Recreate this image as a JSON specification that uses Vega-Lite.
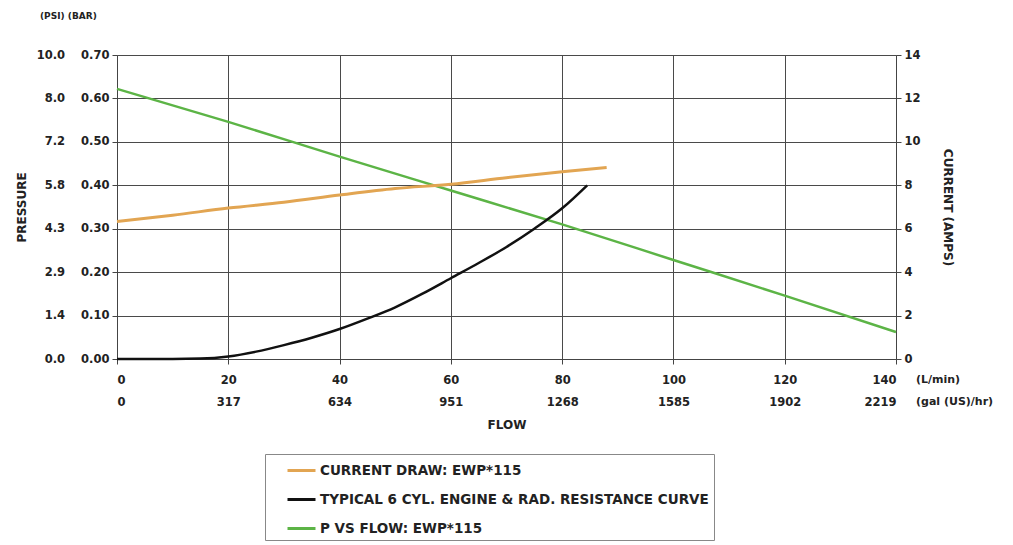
{
  "$schema": "https://vega.github.io/schema/vega-lite/v6.json",
  "width": 779,
  "height": 304,
  "autosize": "none",
  "padding": {"left": 117, "top": 55, "right": 117, "bottom": 186},
  "background": "white",
  "title": {
    "text": "(PSI)\u00a0(BAR)",
    "anchor": "start",
    "frame": "group",
    "dx": -77,
    "offset": 28,
    "font": "DejaVu Sans",
    "fontSize": 9,
    "fontWeight": "bold",
    "color": "#222"
  },
  "datasets": {
    "pressure": [
      {"series": "P VS FLOW: EWP*115", "flow": 0, "bar": 0.622},
      {"series": "P VS FLOW: EWP*115", "flow": 20, "bar": 0.546},
      {"series": "P VS FLOW: EWP*115", "flow": 40, "bar": 0.466},
      {"series": "P VS FLOW: EWP*115", "flow": 60, "bar": 0.388},
      {"series": "P VS FLOW: EWP*115", "flow": 80, "bar": 0.31},
      {"series": "P VS FLOW: EWP*115", "flow": 100, "bar": 0.228},
      {"series": "P VS FLOW: EWP*115", "flow": 120, "bar": 0.146},
      {"series": "P VS FLOW: EWP*115", "flow": 140, "bar": 0.062},
      {"series": "TYPICAL 6 CYL. ENGINE & RAD. RESISTANCE CURVE", "flow": 0, "bar": 0},
      {"series": "TYPICAL 6 CYL. ENGINE & RAD. RESISTANCE CURVE", "flow": 10, "bar": 0},
      {"series": "TYPICAL 6 CYL. ENGINE & RAD. RESISTANCE CURVE", "flow": 15, "bar": 0.001},
      {"series": "TYPICAL 6 CYL. ENGINE & RAD. RESISTANCE CURVE", "flow": 20, "bar": 0.006},
      {"series": "TYPICAL 6 CYL. ENGINE & RAD. RESISTANCE CURVE", "flow": 25, "bar": 0.017},
      {"series": "TYPICAL 6 CYL. ENGINE & RAD. RESISTANCE CURVE", "flow": 30, "bar": 0.032},
      {"series": "TYPICAL 6 CYL. ENGINE & RAD. RESISTANCE CURVE", "flow": 35, "bar": 0.049},
      {"series": "TYPICAL 6 CYL. ENGINE & RAD. RESISTANCE CURVE", "flow": 40, "bar": 0.069},
      {"series": "TYPICAL 6 CYL. ENGINE & RAD. RESISTANCE CURVE", "flow": 45, "bar": 0.093},
      {"series": "TYPICAL 6 CYL. ENGINE & RAD. RESISTANCE CURVE", "flow": 50, "bar": 0.119},
      {"series": "TYPICAL 6 CYL. ENGINE & RAD. RESISTANCE CURVE", "flow": 55, "bar": 0.151},
      {"series": "TYPICAL 6 CYL. ENGINE & RAD. RESISTANCE CURVE", "flow": 60, "bar": 0.186},
      {"series": "TYPICAL 6 CYL. ENGINE & RAD. RESISTANCE CURVE", "flow": 65, "bar": 0.221},
      {"series": "TYPICAL 6 CYL. ENGINE & RAD. RESISTANCE CURVE", "flow": 70, "bar": 0.258},
      {"series": "TYPICAL 6 CYL. ENGINE & RAD. RESISTANCE CURVE", "flow": 75, "bar": 0.3},
      {"series": "TYPICAL 6 CYL. ENGINE & RAD. RESISTANCE CURVE", "flow": 80, "bar": 0.347},
      {"series": "TYPICAL 6 CYL. ENGINE & RAD. RESISTANCE CURVE", "flow": 84.5, "bar": 0.4}
    ],
    "current": [
      {"series": "CURRENT DRAW: EWP*115", "flow": 0, "amps": 6.33},
      {"series": "CURRENT DRAW: EWP*115", "flow": 10, "amps": 6.62},
      {"series": "CURRENT DRAW: EWP*115", "flow": 20, "amps": 6.95},
      {"series": "CURRENT DRAW: EWP*115", "flow": 30, "amps": 7.22},
      {"series": "CURRENT DRAW: EWP*115", "flow": 40, "amps": 7.55},
      {"series": "CURRENT DRAW: EWP*115", "flow": 50, "amps": 7.85},
      {"series": "CURRENT DRAW: EWP*115", "flow": 60, "amps": 8.05},
      {"series": "CURRENT DRAW: EWP*115", "flow": 70, "amps": 8.35},
      {"series": "CURRENT DRAW: EWP*115", "flow": 80, "amps": 8.62},
      {"series": "CURRENT DRAW: EWP*115", "flow": 88, "amps": 8.82}
    ],
    "units": [
      {"flow": 140, "bar": 0, "unit": "(L/min)\n(gal (US)/hr)"}
    ]
  },
  "config": {
    "view": {"stroke": null},
    "axis": {
      "labelFont": "DejaVu Sans",
      "labelFontWeight": "bold",
      "labelFontSize": 11.5,
      "labelColor": "#222",
      "titleFont": "DejaVu Sans",
      "titleFontWeight": "bold",
      "titleFontSize": 12,
      "titleColor": "#222",
      "domainColor": "#444",
      "tickColor": "#444",
      "gridColor": "#4a4a4a",
      "gridOpacity": 1,
      "gridWidth": 1,
      "tickSize": 5
    },
    "legend": {
      "labelFont": "DejaVu Sans",
      "labelFontWeight": "bold",
      "labelFontSize": 13.5,
      "labelColor": "#222"
    }
  },
  "layer": [
    {
      "layer": [
        {
          "data": {"name": "pressure"},
          "mark": {"type": "line", "strokeWidth": 2.5, "interpolate": "monotone"},
          "encoding": {
            "x": {
              "field": "flow",
              "type": "quantitative",
              "scale": {"domain": [0, 140], "nice": false},
              "axis": {
                "values": [0, 20, 40, 60, 80, 100, 120, 140],
                "labelExpr": "[datum.label, ['0','317','634','951','1268','1585','1902','2219'][round(datum.value/20)]]",
                "labelLineHeight": 22,
                "labelPadding": 10,
                "labelBaseline": "top",
                "grid": true,
                "title": "FLOW",
                "titlePadding": 12
              }
            },
            "y": {
              "field": "bar",
              "type": "quantitative",
              "scale": {"domain": [0, 0.7], "nice": false},
              "axis": {
                "values": [0, 0.1, 0.2, 0.3, 0.4, 0.5, 0.6, 0.7],
                "labelExpr": "['0.0','1.4','2.9','4.3','5.8','7.2','8.0','10.0'][round(datum.value*10)] + '\u00a0\u00a0\u00a0\u00a0' + format(datum.value, '.2f')",
                "labelPadding": 3,
                "grid": true,
                "title": "PRESSURE",
                "titleX": -89,
                "titleY": 152
              }
            },
            "color": {
              "field": "series",
              "type": "nominal",
              "scale": {
                "domain": ["CURRENT DRAW: EWP*115", "TYPICAL 6 CYL. ENGINE & RAD. RESISTANCE CURVE", "P VS FLOW: EWP*115"],
                "range": ["#e2a552", "#111111", "#5cb446"]
              },
              "legend": {
                "title": null,
                "orient": "none",
                "legendX": 148,
                "legendY": 399,
                "direction": "vertical",
                "strokeColor": "#888",
                "fillColor": "white",
                "padding": 5,
                "symbolOffset": 20,
                "symbolType": "M-1.4,0H1.4",
                "symbolSize": 400,
                "symbolStrokeWidth": 3,
                "rowPadding": 11,
                "labelOffset": 7,
                "labelLimit": 600
              }
            }
          }
        },
        {
          "data": {"name": "units"},
          "mark": {
            "type": "text",
            "align": "left",
            "baseline": "top",
            "dx": 20,
            "dy": 15,
            "lineBreak": "\n",
            "lineHeight": 22,
            "font": "DejaVu Sans",
            "fontWeight": "bold",
            "fontSize": 11,
            "color": "#222"
          },
          "encoding": {
            "x": {"field": "flow", "type": "quantitative", "axis": {"title": "FLOW"}},
            "y": {"field": "bar", "type": "quantitative", "axis": {"title": "PRESSURE"}},
            "text": {"field": "unit"}
          }
        }
      ]
    },
    {
      "data": {"name": "current"},
      "mark": {"type": "line", "strokeWidth": 3, "interpolate": "monotone"},
      "encoding": {
        "x": {"field": "flow", "type": "quantitative"},
        "y": {
          "field": "amps",
          "type": "quantitative",
          "scale": {"domain": [0, 14], "nice": false},
          "axis": {
            "orient": "right",
            "values": [0, 2, 4, 6, 8, 10, 12, 14],
            "format": "d",
            "grid": false,
            "labelPadding": 3,
            "title": "CURRENT (AMPS)",
            "titleX": 44,
            "titleY": 152
          }
        },
        "color": {"field": "series", "type": "nominal"}
      }
    }
  ],
  "resolve": {"scale": {"y": "independent"}}
}
